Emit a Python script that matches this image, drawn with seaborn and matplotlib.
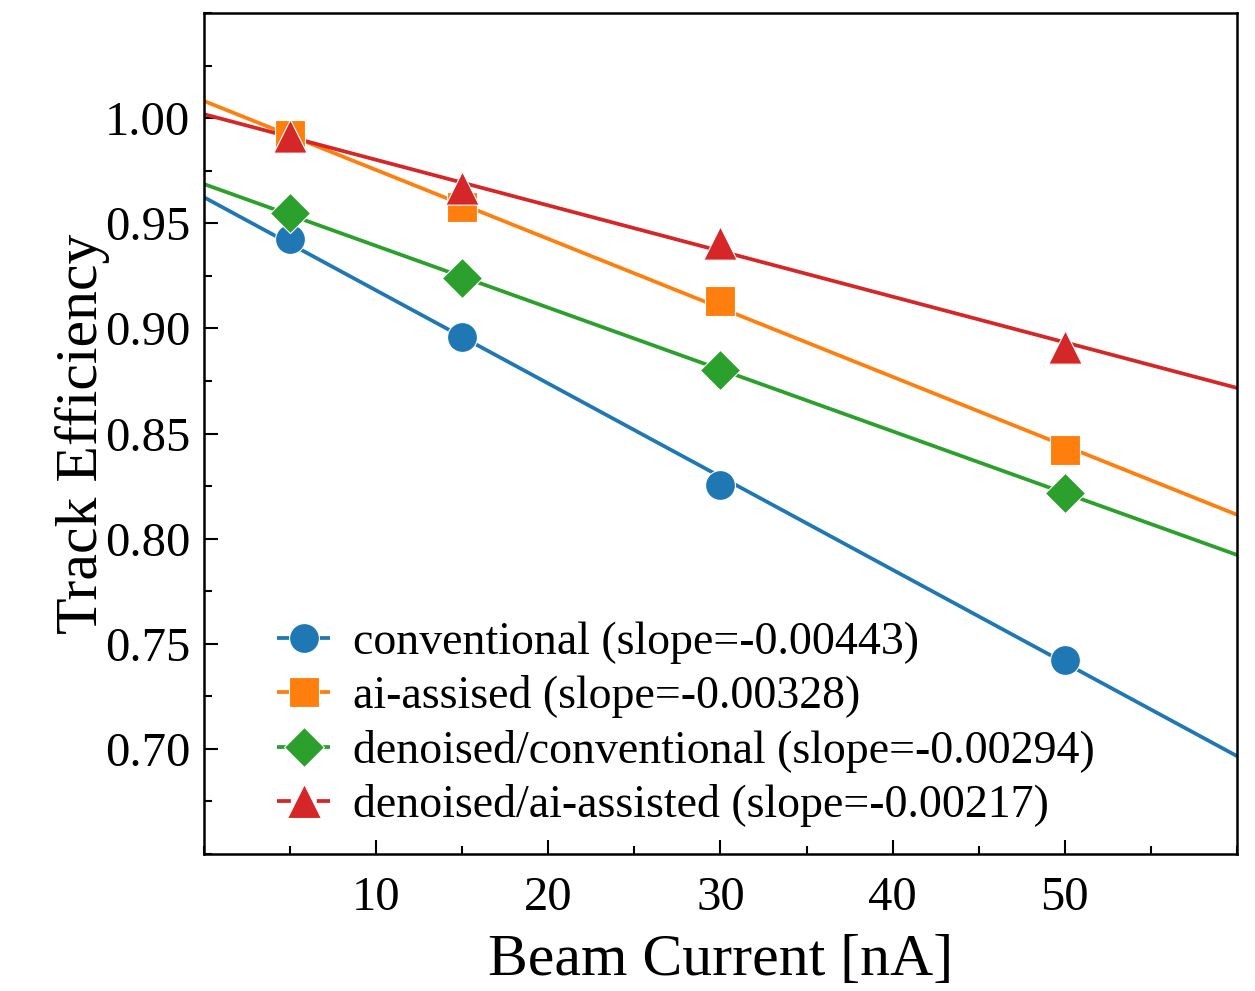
import numpy as np
import pandas as pd
import matplotlib
matplotlib.use("Agg")
import matplotlib.pyplot as plt
from matplotlib.lines import Line2D
from matplotlib.ticker import MultipleLocator, FormatStrFormatter
import seaborn as sns

# Measured track efficiency vs beam current
beam_current = [5, 15, 30, 50]
methods = ["conventional", "ai-assised", "denoised/conventional", "denoised/ai-assisted"]
eff_conventional = [0.9427, 0.8960, 0.8254, 0.7424]
eff_ai = [0.9919, 0.9575, 0.9132, 0.8420]
eff_den_conv = [0.9547, 0.9241, 0.8802, 0.8216]
eff_den_ai = [0.9917, 0.9668, 0.9408, 0.8912]
slopes = [-0.00443, -0.00328, -0.00294, -0.00217]

series = [eff_conventional, eff_ai, eff_den_conv, eff_den_ai]
colors = ["#1f77b4", "#ff7f0e", "#2ca02c", "#d62728"]
markers = ["o", "s", "D", "^"]
marker_sizes = [21.5, 21, 20.5, 24]

sns.set_theme(style="ticks")
plt.rcParams["font.family"] = ["Liberation Serif", "DejaVu Serif"]
plt.rcParams["mathtext.fontset"] = "stix"
for key in ["text.color", "axes.labelcolor", "xtick.color", "ytick.color", "axes.edgecolor"]:
    plt.rcParams[key] = "black"

df = pd.DataFrame({
    "current": np.tile(beam_current, len(methods)),
    "efficiency": np.concatenate(series),
    "method": np.repeat(methods, len(beam_current)),
})

fig = plt.figure(figsize=(12.55, 9.91), dpi=100)
ax = fig.add_axes([0.1625, 0.1382, 0.8232, 0.8487])

# Straight-line fits with the quoted slopes, intercept from least squares
x_fit = np.linspace(0, 60, 200)
fit_rows = []
for name, y, m in zip(methods, series, slopes):
    b = np.mean(y) - m * np.mean(beam_current)
    fit_rows.append(pd.DataFrame({"current": x_fit, "efficiency": m * x_fit + b, "method": name}))
fit_df = pd.concat(fit_rows, ignore_index=True)

sns.lineplot(data=fit_df, x="current", y="efficiency", hue="method", hue_order=methods,
             palette=colors, linewidth=2.7, legend=False, ax=ax, zorder=2)

for name, c, mk, ms in zip(methods, colors, markers, marker_sizes):
    sub = df[df["method"] == name]
    sns.scatterplot(data=sub, x="current", y="efficiency", color=c, marker=mk,
                    s=ms ** 2, edgecolor="white", linewidth=0.8, legend=False, ax=ax, zorder=3)

handles = [
    Line2D([0], [0], color=c, marker=mk, markersize=ms, markeredgecolor="white",
           markeredgewidth=0.8, linestyle="--", linewidth=2.7)
    for c, mk, ms in zip(colors, markers, marker_sizes)
]
labels = [f"{n} (slope={s:.5f})" for n, s in zip(methods, slopes)]
ax.legend(handles, labels, loc="lower left", bbox_to_anchor=(0.031, -0.017), frameon=False,
          fontsize=33, handlelength=1.15, handletextpad=0.5, labelspacing=0.25)

ax.set_xlim(0, 60)
ax.set_ylim(0.65, 1.05)
ax.set_xticks([10, 20, 30, 40, 50])
ax.xaxis.set_minor_locator(MultipleLocator(5))
ax.set_yticks([0.70, 0.75, 0.80, 0.85, 0.90, 0.95, 1.00])
ax.yaxis.set_minor_locator(MultipleLocator(0.025))
ax.yaxis.set_major_formatter(FormatStrFormatter("%.2f"))

ax.tick_params(axis="both", which="major", direction="in", length=10, width=1.5,
               labelsize=35, colors="black")
ax.tick_params(axis="x", which="major", pad=16)
ax.tick_params(axis="y", which="major", pad=10)
ax.tick_params(axis="both", which="minor", direction="in", length=6, width=1.5)
for sp in ax.spines.values():
    sp.set_linewidth(1.8)
    sp.set_color("black")

ax.set_xlabel("Beam Current [nA]", fontsize=43, labelpad=10)
ax.set_ylabel("Track Efficiency", fontsize=43, labelpad=-4)

fig.savefig("out.png", dpi=100)
